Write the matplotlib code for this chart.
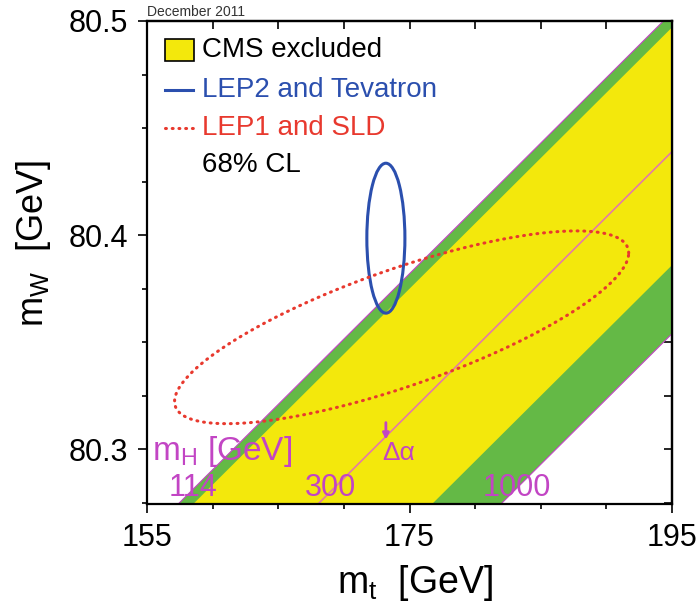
"""
Recreation of the mW vs mt plot (LEP EWWG, December 2011).
"""

import numpy as np
import matplotlib
import matplotlib.pyplot as plt
from matplotlib.patches import Ellipse, Rectangle
from matplotlib.lines import Line2D
from matplotlib.ticker import MultipleLocator

matplotlib.use("Agg")

plt.rcParams["font.family"] = ["Liberation Sans", "DejaVu Sans"]
plt.rcParams["mathtext.fontset"] = "custom"
plt.rcParams["mathtext.rm"] = "Liberation Sans"
plt.rcParams["mathtext.it"] = "Liberation Sans:italic"

# SM bands: mW at mt = 155 and 195 for each Higgs mass line
mt_edges = [155.0, 195.0]
mw_114 = [80.2600, 80.5040]
mw_127 = [80.2530, 80.4970]
mw_300 = [80.1950, 80.4390]
mw_600 = [80.1420, 80.3860]
mw_1000 = [80.1100, 80.3540]

# band labels along the bottom
mh_labels = ["114", "300", "1000"]
mh_label_mt = [158.5, 169.0, 183.2]

# LEP2 + Tevatron direct measurement (68% CL)
direct_mt, direct_mw = 173.2, 80.3986
direct_dmt, direct_dmw = 1.45, 0.035

# LEP1 + SLD indirect (68% CL contour)
indirect_mt, indirect_mw = 174.4, 80.357
indirect_dmt, indirect_dmw, indirect_rho = 17.3, 0.045, 0.77

# Delta alpha arrow
dalpha_mt = 173.2
dalpha_mw = [80.3125, 80.3045]

magenta = "#c245c4"
yellow = "#f3e80c"
green = "#64b946"
blue = "#2b4fae"
red = "#e8392e"

fig = plt.figure(figsize=(6.99, 6.08), dpi=100)
ax = fig.add_axes([147 / 699, 104 / 608, 525 / 699, 483 / 608])

ax.fill_between(mt_edges, mw_1000, mw_114, color=green, lw=0, zorder=1)
ax.fill_between(mt_edges, mw_600, mw_127, color=yellow, lw=0, zorder=1.5)
for mw in (mw_114, mw_1000):
    ax.plot(mt_edges, mw, color=magenta, lw=0.8, zorder=2)
ax.plot(mt_edges, mw_300, color="#e47aa8", lw=1.2, zorder=2)

# direct ellipse
ax.add_patch(Ellipse((direct_mt, direct_mw), 2 * direct_dmt, 2 * direct_dmw,
                     fill=False, ec=blue, lw=2.2, zorder=4))

# indirect contour (correlated gaussian)
t = np.linspace(0, 2 * np.pi, 400)
phi = np.arccos(indirect_rho)
ax.plot(indirect_mt + indirect_dmt * np.cos(t),
        indirect_mw + indirect_dmw * np.cos(t - phi),
        color=red, lw=2.2, ls=(0, (0.3, 1.9)), dash_capstyle="round", zorder=4)

# labels inside the plot
ax.text(155.4, 80.2990, r"m$_\mathrm{H}$ [GeV]", color=magenta, fontsize=24,
        ha="left", va="center", zorder=5)
for lab, x in zip(mh_labels, mh_label_mt):
    ax.text(x, 80.2750, lab, color=magenta, fontsize=22, ha="center",
            va="bottom", zorder=5)
ax.annotate("", xy=(dalpha_mt, dalpha_mw[1]), xytext=(dalpha_mt, dalpha_mw[0]),
            arrowprops=dict(arrowstyle="-|>", color=magenta, lw=2.0,
                            mutation_scale=9, shrinkA=0, shrinkB=0), zorder=5)
ax.text(172.9, 80.2985, "Δα", color=magenta, fontsize=19, ha="left",
        va="center", zorder=5)

# legend drawn by hand
ax.add_patch(Rectangle((0.034, 0.917), 0.056, 0.046, transform=ax.transAxes,
                       fc=yellow, ec="black", lw=1.2, zorder=6))
ax.add_line(Line2D([0.034, 0.088], [0.857, 0.857], transform=ax.transAxes,
                   color=blue, lw=2.2, zorder=6))
ax.add_line(Line2D([0.034, 0.088], [0.778, 0.778], transform=ax.transAxes,
                   color=red, lw=2.2, ls=(0, (0.3, 1.9)),
                   dash_capstyle="round", zorder=6))
legend_rows = [("CMS excluded", "black", 0.940),
               ("LEP2 and Tevatron", blue, 0.857),
               ("LEP1 and SLD", red, 0.778),
               ("68% CL", "black", 0.702)]
for lab, col, y in legend_rows:
    ax.text(0.105, y, lab, color=col, fontsize=20, ha="left", va="center",
            transform=ax.transAxes, zorder=6)

ax.text(0.0, 1.005, "December 2011", fontsize=10, color="#333333",
        ha="left", va="bottom", transform=ax.transAxes)

ax.set_xlim(155, 195)
ax.set_ylim(80.2745, 80.5)
ax.set_xticks([155, 175, 195])
ax.set_yticks([80.3, 80.4, 80.5])
ax.set_yticklabels(["80.3", "80.4", "80.5"])
ax.xaxis.set_minor_locator(MultipleLocator(5))
ax.yaxis.set_minor_locator(MultipleLocator(0.025))
ax.tick_params(which="both", direction="out", labelsize=22, width=1.2,
               pad=7)
ax.tick_params(which="major", length=6.5)
ax.tick_params(which="minor", length=3.5)

top = ax.secondary_xaxis("top")
top.set_xticks([155, 175, 195])
top.xaxis.set_minor_locator(MultipleLocator(5))
top.tick_params(which="both", direction="in", labeltop=False, width=1.2,
                length=6)
right = ax.secondary_yaxis("right")
right.set_yticks([80.3, 80.4, 80.5])
right.yaxis.set_minor_locator(MultipleLocator(0.025))
right.tick_params(which="both", direction="in", labelright=False, width=1.2,
                  length=6)
for sec in (top, right):
    for sp in sec.spines.values():
        sp.set_linewidth(1.6)

for sp in ax.spines.values():
    sp.set_linewidth(1.6)

ax.set_xlabel(r"m$_\mathrm{t}$  [GeV]", fontsize=27, va="top")
ax.xaxis.set_label_coords(0.51, -0.122)
ax.set_ylabel(r"m$_\mathrm{W}$  [GeV]", fontsize=26, va="center")
ax.yaxis.set_label_coords(-0.217, 0.54)

fig.savefig("out.png", dpi=100)
